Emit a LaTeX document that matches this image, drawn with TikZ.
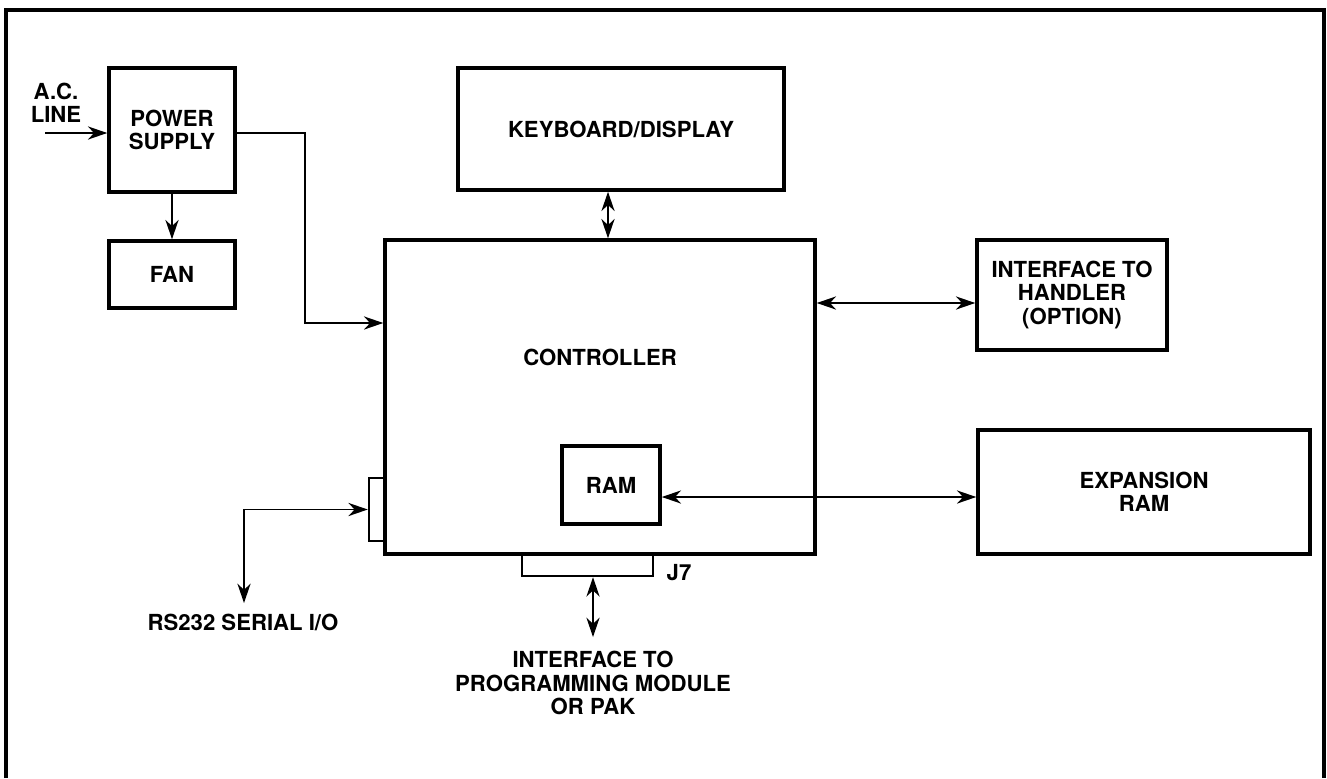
\documentclass[tikz,border=0pt]{standalone}
\usepackage{fontspec}
\setmainfont{TeX Gyre Heros}
\usetikzlibrary{arrows.meta,calc}
\tikzset{
  box/.style={draw, line width=2pt, inner sep=0pt, align=center},
  conn/.style={draw, line width=1.4pt, inner sep=0pt},
  lbl/.style={align=center, inner sep=0pt},
  wire/.style={line width=1pt},
  tip/.style={},
  arr/.style={wire, -{Stealth[length=11pt,width=7.5pt,inset=3.5pt]}},
  dbl/.style={wire, {Stealth[length=11pt,width=7.5pt,inset=3.5pt]}-{Stealth[length=11pt,width=7.5pt,inset=3.5pt]}},
}
\begin{document}
\begin{tikzpicture}[x=0.02cm, y=-0.02cm, every node/.append style={font=\bfseries\fontsize{12.6}{13.2}\selectfont}]
\useasboundingbox (0,0) rectangle (1327,778);
% frame (open at bottom)
\draw[line width=1.8pt] (6,778) -- (6,10) -- (1324,10) -- (1324,778);

% boxes
\node[box, minimum width=2.52cm, minimum height=2.48cm] (ps) at (172,130) {POWER\\SUPPLY};
\node[box, minimum width=2.52cm, minimum height=1.34cm] (fan) at (172,274.5) {FAN};
\node[box, minimum width=6.52cm, minimum height=2.44cm] (kb) at (621,129) {KEYBOARD/DISPLAY};
\node[conn, minimum width=0.36cm, minimum height=1.26cm] (ser) at (378,509.5) {};
\node[conn, minimum width=2.62cm, minimum height=0.44cm] (j7) at (587.5,565) {};
\node[box, fill=white, minimum width=8.6cm, minimum height=6.28cm] (ctrl) at (600,397) {};
\node[lbl] (ctrllabel) at (600,357) {CONTROLLER};
\node[box, minimum width=1.96cm, minimum height=1.56cm] (ram) at (611,485) {RAM};
\node[box, minimum width=3.8cm, minimum height=2.2cm] (hand) at (1072,295) {INTERFACE TO\\HANDLER\\(OPTION)};
\node[box, minimum width=6.64cm, minimum height=2.48cm] (exp) at (1144,492) {EXPANSION\\RAM};

% labels
\node[lbl] (acline) at (56,103) {A.C.\\LINE};
\node[lbl] (rs232) at (243,622) {RS232 SERIAL I/O};
\node[lbl] (j7lbl) at (679,573) {J7};
\node[lbl] (pgm) at (593,683) {INTERFACE TO\\PROGRAMMING MODULE\\OR PAK};

% helper coordinates
\coordinate (acin) at (45,133);
\coordinate (pB) at (305,323);
\coordinate (kbx) at (608,0);
\coordinate (hy) at (0,303);
\coordinate (ey) at (0,497);
\coordinate (rsend) at (244,603);
\coordinate (j7end) at (593,637);

% connectors
\draw[arr] (acin) -- (acin -| ps.west);
\draw[arr] (ps.east |- acin) -| (pB) -- (pB -| ctrl.west);
\draw[arr] (ps.south) -- (fan.north);
\draw[dbl] (kb.south -| kbx) -- (ctrl.north -| kbx);
\draw[dbl] (ctrl.east |- hy) -- (hand.west |- hy);
\draw[dbl] (ram.east |- ey) -- (exp.west |- ey);
\draw[dbl] (rsend) |- (ser.west);
\draw[dbl] (j7.south -| j7end) -- (j7end);
\end{tikzpicture}
\end{document}
